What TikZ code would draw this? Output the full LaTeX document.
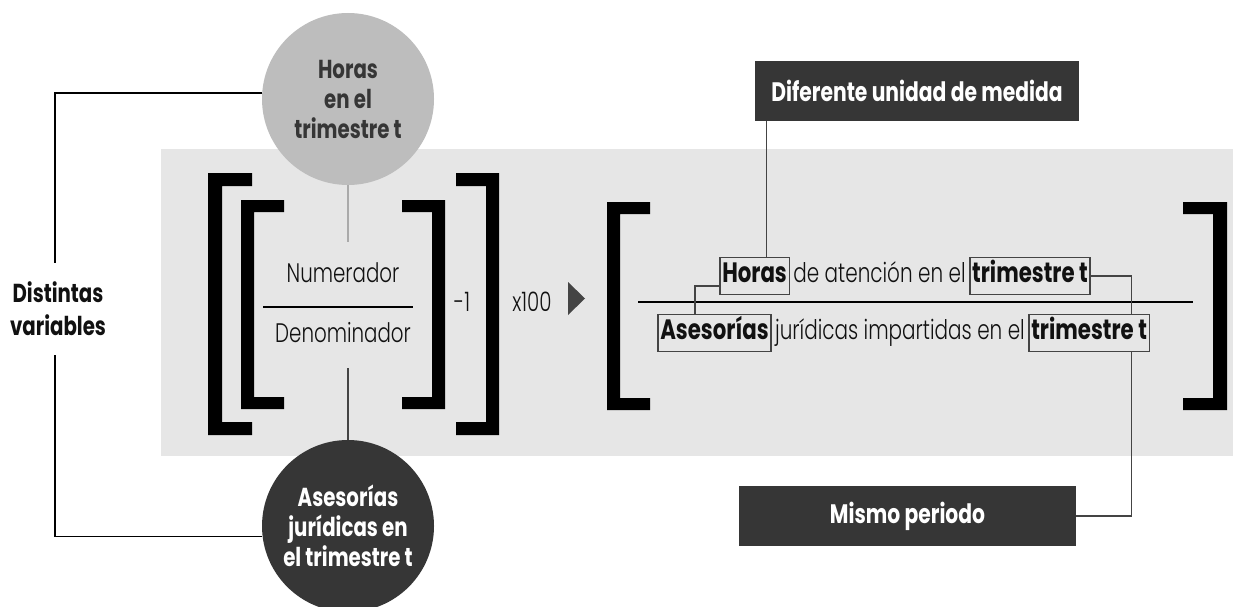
\documentclass[tikz,border=0pt]{standalone}
\usepackage{fontspec}
\setmainfont{Poppins}[UprightFont={* Light}, BoldFont={* Bold}, UprightFeatures={FakeStretch=0.74}, BoldFeatures={FakeStretch=0.76}]
\usetikzlibrary{calc}
\definecolor{bgc}{HTML}{E6E6E6}
\definecolor{lightc}{HTML}{BDBDBD}
\definecolor{darkc}{HTML}{363636}
\definecolor{linec}{HTML}{444444}
\definecolor{txtc}{HTML}{111111}
\begin{document}
\begin{tikzpicture}[x=1pt,y=-1pt,
  every node/.style={font=\fontsize{26.8}{30}\selectfont, text=txtc},
  bubble/.style={circle, minimum size=172, inner sep=0pt, align=center, font=\fontsize{26}{30}\selectfont\bfseries},
  darkbox/.style={fill=darkc, inner sep=0pt, text=white, font=\fontsize{26.7}{30}\selectfont\bfseries},
  wordbox/.style={draw=linec, line width=1.6pt, inner xsep=2.5pt, inner ysep=0pt, minimum height=37, text height=19, text depth=6, font=\fontsize{28}{30}\selectfont\bfseries},
  rowtext/.style={inner xsep=3pt, inner ysep=0pt, text height=19, text depth=6, font=\fontsize{27}{30}\selectfont},
  conn/.style={draw=linec, line width=1.5pt},
  blk/.style={draw=black, line width=1.5pt},
  bracket/.style={fill=black}
]
\useasboundingbox (0,0) rectangle (1233,607);
\clip (0,0) rectangle (1233,607);
\fill[bgc] (161,149) rectangle (1233,456);

% brackets
\fill[bracket] (208,173) -- (252,173) -- (252,186) -- (222,186) -- (222,422) -- (252,422) -- (252,435) -- (208,435) -- cycle;
\fill[bracket] (241,200) -- (284,200) -- (284,212) -- (254,212) -- (254,397) -- (284,397) -- (284,409) -- (241,409) -- cycle;
\fill[bracket] (445,200) -- (402,200) -- (402,212) -- (432,212) -- (432,397) -- (402,397) -- (402,409) -- (445,409) -- cycle;
\fill[bracket] (499,173) -- (456,173) -- (456,186) -- (486,186) -- (486,422) -- (456,422) -- (456,435) -- (499,435) -- cycle;
\fill[bracket] (607,202) -- (650,202) -- (650,214) -- (620,214) -- (620,398) -- (650,398) -- (650,410) -- (607,410) -- cycle;
\fill[bracket] (1227,202) -- (1183,202) -- (1183,214) -- (1213,214) -- (1213,398) -- (1183,398) -- (1183,410) -- (1227,410) -- cycle;

% circles
\node[bubble, fill=lightc, text=darkc] (horas) at (348,99) {Horas\\en el\\trimestre t};
\node[bubble, fill=darkc, text=white] (asesor) at (348,526) {Asesorías\\jurídicas en\\el trimestre t};

% distintas variables
\node[align=center, font=\fontsize{26}{33}\selectfont\bfseries] (dist) at (58,309) {Distintas\\variables};
\coordinate (d1) at (55,263);
\coordinate (d2) at (55,355);
\draw[blk] (horas.176) -| (d1);
\draw[blk] (d2) |- (asesor.187);

% left fraction
\node (num) at (343,273) {Numerador};
\node (den) at (343,333) {Denominador};
\coordinate (fl1) at (263,307);
\coordinate (fl2) at (413,307);
\draw[black, line width=1.7pt] (fl1) -- (fl2);
\coordinate (g1) at (348,242);
\coordinate (g2) at (348,368);
\draw[draw=lightc!90!black, line width=1.5pt] (horas.south) -- (g1);
\draw[conn] (asesor.north) -- (g2);

\node (m1) at (462,302) {-1};
\node (x100) at (532,302) {x100};
\fill[linec] (568,282) -- (585,298.5) -- (568,315) -- cycle;

% right fraction
\coordinate (rf1) at (638,302);
\coordinate (rf2) at (1193,302);
\draw[black, line width=1.7pt] (rf1) -- (rf2);

\node[wordbox, anchor=west] (hb) at (719,276) {Horas};
\node[rowtext, anchor=west] (t1) at (hb.east) {de atención en el};
\node[wordbox, anchor=west] (tb1) at (t1.east) {trimestre t};

\node[wordbox, anchor=west] (ab) at (657,333) {Asesorías};
\node[rowtext, anchor=west] (t2) at (ab.east) {jurídicas impartidas en el};
\node[wordbox, anchor=west] (tb2) at (t2.east) {trimestre t};

% dark boxes
\node[darkbox, minimum width=324, minimum height=60] (dif) at (917,91) {Diferente unidad de medida};
\node[darkbox, minimum width=337, minimum height=60] (mismo) at (907.5,516) {Mismo periodo};

% connectors
\coordinate (hx) at ($(hb.north west)!0.67!(hb.north east)$);
\draw[conn] (hx) -- (hx |- dif.south);
\coordinate (ax) at ($(ab.north west)!0.33!(ab.north east)$);
\draw[conn] ($(hb.north west)!0.76!(hb.south west)$) -| (ax);
\coordinate (tx) at ($(tb2.north west)!0.846!(tb2.north east)$);
\draw[conn] (tb1.east) -| (tx);
\draw[conn] (tx |- tb2.south) |- (mismo.east);
\end{tikzpicture}
\end{document}
